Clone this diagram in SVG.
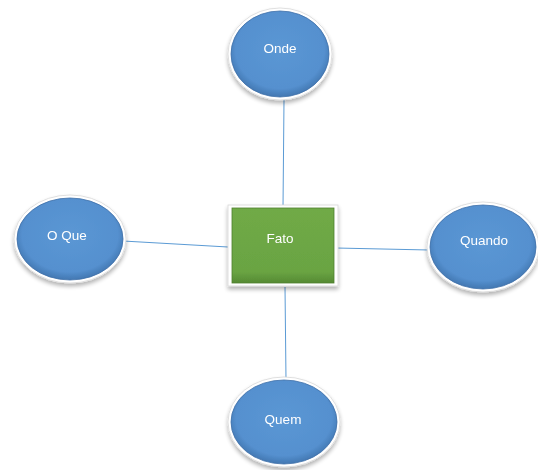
<svg xmlns="http://www.w3.org/2000/svg" width="538" height="470" viewBox="0 0 538 470">
<defs>
<radialGradient id="gb" cx="50%" cy="45%" r="55%">
<stop offset="0" stop-color="#5b97d4"/>
<stop offset="0.82" stop-color="#5590cf"/>
<stop offset="1" stop-color="#4277b1"/>
</radialGradient>
<linearGradient id="gg" x1="0" y1="0" x2="0" y2="1">
<stop offset="0" stop-color="#70aa46"/>
<stop offset="0.85" stop-color="#6aa443"/>
<stop offset="1" stop-color="#558a33"/>
</linearGradient>
<filter id="sh" x="-20%" y="-20%" width="140%" height="150%">
<feGaussianBlur in="SourceAlpha" stdDeviation="2"/>
<feOffset dx="0" dy="3" result="b"/>
<feComponentTransfer><feFuncA type="linear" slope="0.3"/></feComponentTransfer>
<feMerge><feMergeNode/><feMergeNode in="SourceGraphic"/></feMerge>
</filter>
</defs>
<style>
.ring{fill:#ffffff;stroke:#d8d8d8;stroke-width:0.8}
.ell{fill:url(#gb);stroke:#3d6fa8;stroke-width:0.8}
.box{fill:url(#gg);stroke:#4f7f2e;stroke-width:0.8}
.lbl{font-family:"Liberation Sans",Arial,sans-serif;font-size:13.5px;fill:#ffffff;text-anchor:middle;dominant-baseline:central}
.con{stroke:#5b9bd5;stroke-width:1;fill:none}
</style>
<g id="connectors">
<line class="con" x1="284" y1="100" x2="283" y2="207"/>
<line class="con" x1="285" y1="287" x2="286" y2="380"/>
<line class="con" x1="123" y1="241" x2="228" y2="247"/>
<line class="con" x1="336" y1="248" x2="429" y2="250"/>
</g>
<g id="node-onde" filter="url(#sh)">
<ellipse class="ring" cx="280" cy="54" rx="52" ry="46"/>
<ellipse class="ell" cx="280" cy="54" rx="49" ry="43"/>
<text class="lbl" x="280" y="48">Onde</text>
</g>
<g id="node-fato" filter="url(#sh)">
<rect class="ring" x="228" y="205" width="110" height="81"/>
<rect class="box" x="232" y="208" width="102" height="75"/>
<text class="lbl" x="280" y="238">Fato</text>
</g>
<g id="node-oque" filter="url(#sh)">
<ellipse class="ring" cx="70" cy="239" rx="56" ry="44"/>
<ellipse class="ell" cx="70" cy="239" rx="53" ry="41"/>
<text class="lbl" x="67" y="235">O Que</text>
</g>
<g id="node-quando" filter="url(#sh)">
<ellipse class="ring" cx="483" cy="247" rx="56" ry="45"/>
<ellipse class="ell" cx="483" cy="247" rx="53" ry="42"/>
<text class="lbl" x="484" y="240">Quando</text>
</g>
<g id="node-quem" filter="url(#sh)">
<ellipse class="ring" cx="284" cy="422" rx="56" ry="45"/>
<ellipse class="ell" cx="284" cy="422" rx="53" ry="42"/>
<text class="lbl" x="283" y="419">Quem</text>
</g>
</svg>
